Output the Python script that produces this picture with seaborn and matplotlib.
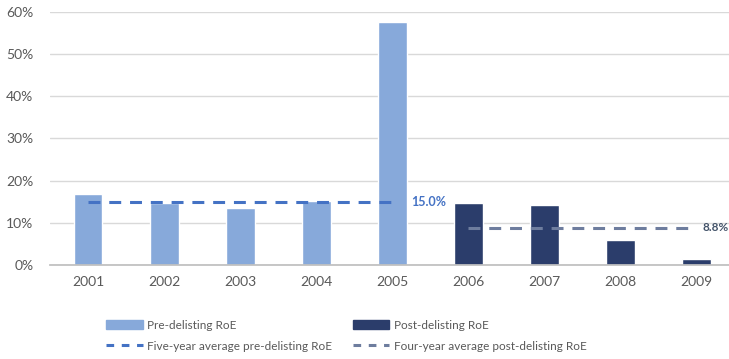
import numpy as np
import pandas as pd
import matplotlib
matplotlib.use("Agg")
import matplotlib.pyplot as plt
import seaborn as sns
from matplotlib.patches import Patch
from matplotlib.lines import Line2D

# ------------------------------------------------------------------
# Dados
# ------------------------------------------------------------------
years = ["2001", "2002", "2003", "2004", "2005", "2006", "2007", "2008", "2009"]
roe = [16.8, 14.8, 13.4, 15.1, 57.6, 14.6, 14.1, 5.8, 1.4]
period = ["Pre-delisting RoE"] * 5 + ["Post-delisting RoE"] * 4
pre_avg = 15.0
post_avg = 8.8

df = pd.DataFrame({"year": years, "roe": roe, "period": period})

c_pre = "#87A9DA"
c_post = "#2B3D6B"
c_pre_line = "#4472C4"
c_post_line = "#6E7D9E"

sns.set_theme(style="white")
plt.rcParams["font.family"] = ["Lato", "DejaVu Sans"]

fig = plt.figure(figsize=(7.29, 3.59), dpi=100)
ax = fig.add_axes([0.0686, 0.262, 0.9314, 0.705])

sns.barplot(data=df, x="year", y="roe", hue="period", dodge=False,
            palette={"Pre-delisting RoE": c_pre, "Post-delisting RoE": c_post},
            width=0.38, ax=ax, legend=False, saturation=1)

# linhas de média
pre_idx = [i for i, p in enumerate(period) if p.startswith("Pre")]
post_idx = [i for i, p in enumerate(period) if p.startswith("Post")]
ax.plot([pre_idx[0], pre_idx[-1]], [pre_avg, pre_avg], color=c_pre_line,
        lw=2.2, dashes=(3.9, 2.9))
ax.plot([post_idx[0], post_idx[-1]], [post_avg, post_avg], color=c_post_line,
        lw=2.2, dashes=(3.9, 2.9))
ax.text(pre_idx[-1] + 0.25, pre_avg, f"{pre_avg:.1f}%", color=c_pre_line,
        fontsize=9, fontweight="bold", va="center", ha="left")
ax.text(0.999, post_avg, f"{post_avg:.1f}%", color="#44546A",
        transform=ax.get_yaxis_transform(),
        fontsize=8.5, fontweight="bold", va="center", ha="right")

ax.set_ylim(0, 60)
ax.set_xlim(-0.5, 8.43)
ax.set_yticks(range(0, 61, 10))
ax.set_yticklabels([f"{v}%" for v in range(0, 61, 10)])
ax.set_xlabel("")
ax.set_ylabel("")
ax.grid(axis="y", color="#D9D9D9", lw=1)
ax.set_axisbelow(True)
for s in ["left", "right", "top"]:
    ax.spines[s].set_visible(False)
ax.spines["bottom"].set_color("#BFBFBF")
ax.tick_params(axis="both", colors="#595959", labelsize=10, length=0, pad=8)
ax.tick_params(axis="y", pad=12)

# legenda em duas colunas (duas legendas posicionadas)
left_handles = [
    Patch(color=c_pre, label="Pre-delisting RoE"),
    Line2D([0], [0], color=c_pre_line, lw=2.2, dashes=(2.5, 2.5),
           label="Five-year average pre-delisting RoE"),
]
right_handles = [
    Patch(color=c_post, label="Post-delisting RoE"),
    Line2D([0], [0], color=c_post_line, lw=2.2, dashes=(2.5, 2.5),
           label="Four-year average post-delisting RoE"),
]
kw = dict(loc="upper left", frameon=False, fontsize=8.5, handlelength=3.1,
          handleheight=0.7, labelspacing=0.85, handletextpad=0.35,
          borderpad=0, borderaxespad=0)
leg1 = fig.legend(handles=left_handles, bbox_to_anchor=(0.146, 0.11), **kw)
leg2 = fig.legend(handles=right_handles, bbox_to_anchor=(0.484, 0.11), **kw)
for leg in (leg1, leg2):
    for t in leg.get_texts():
        t.set_color("#595959")

fig.savefig("out.png", dpi=100)
